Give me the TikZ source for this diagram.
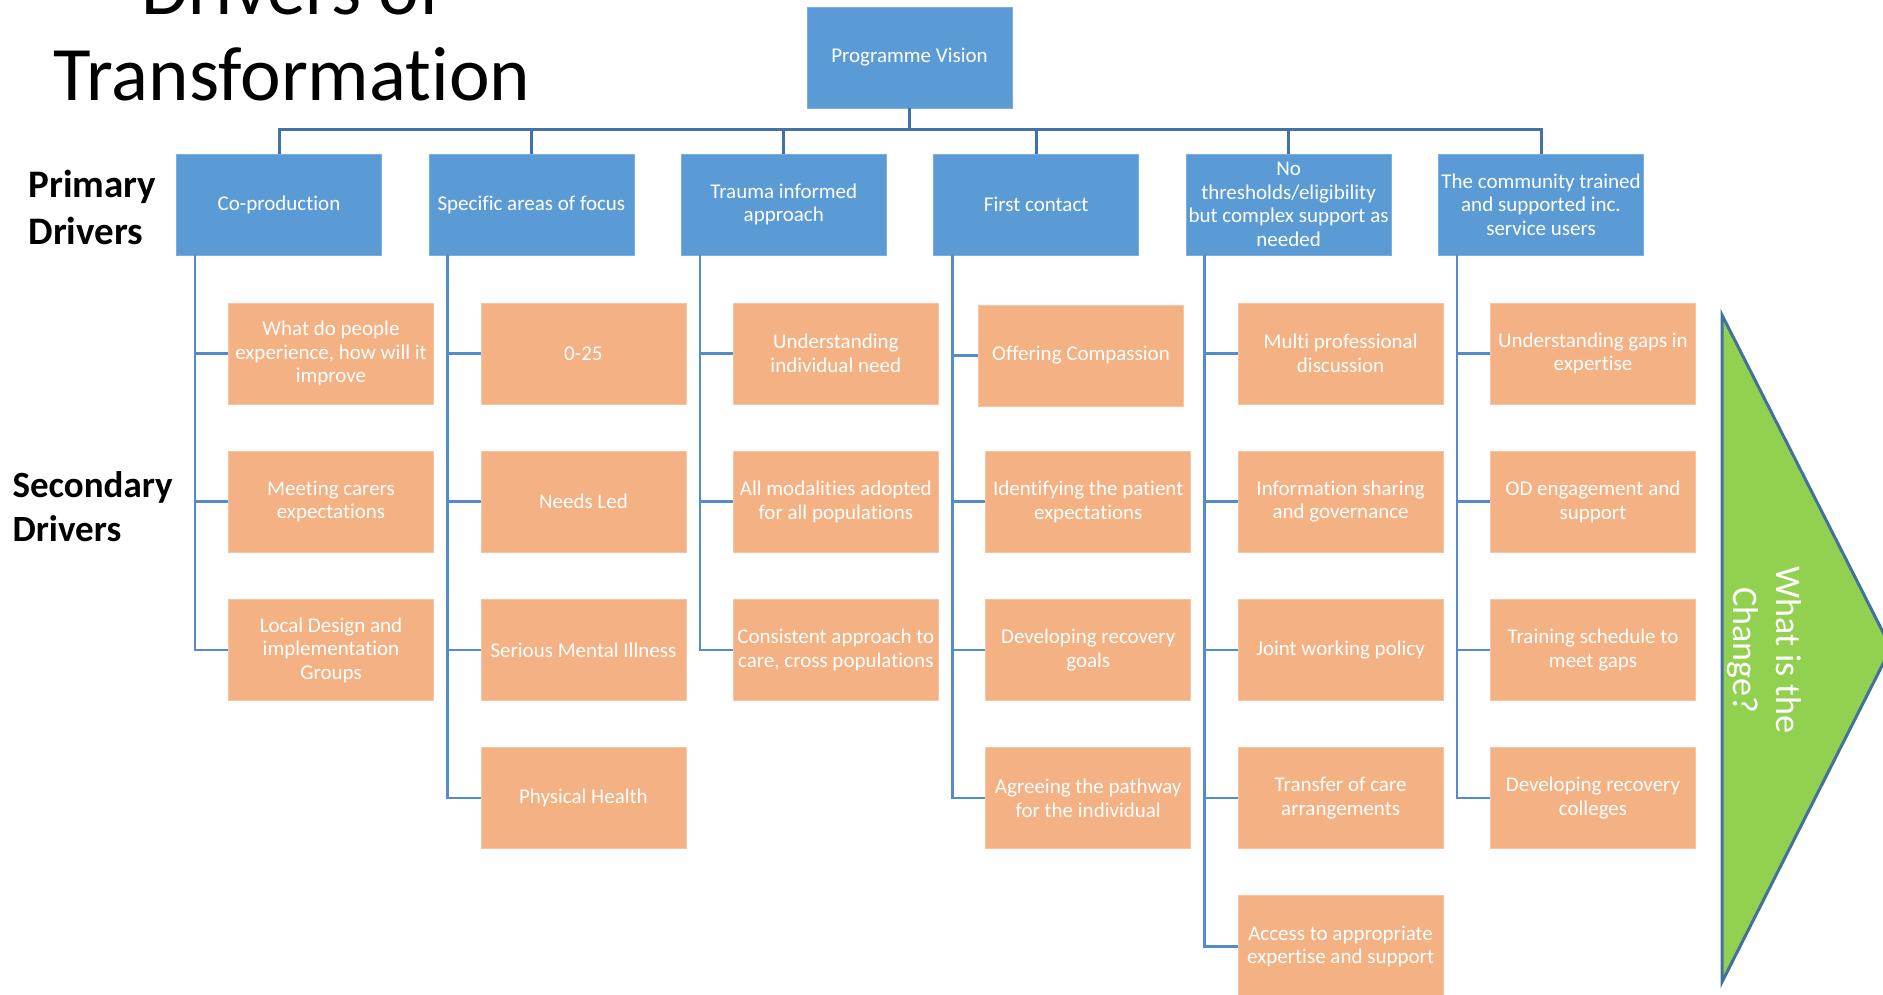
\documentclass[tikz,border=0pt]{standalone}
\usepackage{fontspec}
\setmainfont{Carlito}[Ligatures=NoCommon]
\usepackage{tikz}
\usetikzlibrary{positioning}
\definecolor{visionblue}{RGB}{91,155,213}
\definecolor{driverorange}{RGB}{244,177,131}
\definecolor{busblue}{RGB}{68,114,168}
\definecolor{linkblue}{RGB}{84,139,204}
\definecolor{changegreen}{RGB}{146,208,80}
\definecolor{edgeblue}{RGB}{65,113,156}

\begin{document}
\begin{tikzpicture}[x=1pt, y=-1pt,
    vision block/.style={draw=visionblue!80!white, line width=0.8pt, fill=visionblue, rectangle, minimum width=205pt, minimum height=101pt, inner sep=0pt, align=center, text=white, font=\fontsize{21}{23.5}\selectfont},
    primary block/.style={vision block},
    secondary block/.style={vision block, draw=driverorange!75!white, fill=driverorange},
    side label/.style={anchor=base west, font=\fontsize{39}{46}\selectfont\bfseries},
    bus/.style={draw=busblue, line width=3pt},
    link/.style={draw=linkblue, line width=2.5pt},
    node distance=252.4pt]
    \useasboundingbox (0,0) rectangle (1883,995);

    % title and row labels
    \node[anchor=base, font=\fontsize{77}{85}\selectfont] (title1) at (292,15) {Drivers of};
    \node[anchor=base, font=\fontsize{77}{85}\selectfont] (title2) at (292,101) {Transformation};
    \node[side label] (prim1) at (25,198) {Primary};
    \node[side label] (prim2) at (25,245) {Drivers};
    \node[side label, font=\fontsize{37}{44}\selectfont\bfseries] (sec1) at (9,497) {Secondary};
    \node[side label, font=\fontsize{37}{44}\selectfont\bfseries] (sec2) at (9,541) {Drivers};

    % vision and primary drivers
    \node[vision block] (PV) at (909.5,57.5) {Programme Vision};
    \node[primary block] (P1) at (279,204.5) {Co-production};
    \node[primary block, right of=P1] (P2) {Specific areas of focus};
    \node[primary block, right of=P2] (P3) {Trauma informed\\approach};
    \node[primary block, right of=P3] (P4) {First contact};
    \node[primary block, right of=P4] (P5) {No\\thresholds/eligibility\\but complex support as\\needed};
    \node[primary block, right of=P5] (P6) {The community trained\\and supported inc.\\service users};

    \coordinate (bus) at (909.5,130);
    \draw[bus] (PV.south) -- (bus);
    \draw[bus] (P1.north) |- (bus);
    \draw[bus] (P2.north) |- (bus);
    \draw[bus] (P3.north) |- (bus);
    \draw[bus] (P4.north) |- (bus);
    \draw[bus] (P5.north) |- (bus);
    \draw[bus] (P6.north) |- (bus);

    % secondary drivers
    \begin{scope}[node distance=148.2pt]
    \node[secondary block] (S11) at (331,353.5) {What do people\\experience, how will it\\improve};
    \node[secondary block, below of=S11] (S12) {Meeting carers\\expectations};
    \node[secondary block, below of=S12] (S13) {Local Design and\\implementation\\Groups};

    \node[secondary block] (S21) at (583.4,353.5) {0-25};
    \node[secondary block, below of=S21] (S22) {Needs Led};
    \node[secondary block, below of=S22] (S23) {Serious Mental Illness};
    \node[secondary block, below of=S23] (S24) {Physical Health};

    \node[secondary block] (S31) at (835.8,353.5) {Understanding\\individual need};
    \node[secondary block, below of=S31] (S32) {All modalities adopted\\for all populations};
    \node[secondary block, below of=S32] (S33) {Consistent approach to\\care, cross populations};

    \node[secondary block] (S41) at (1081,355.5) {Offering Compassion};
    \node[secondary block] (S42) at (1088.2,501.7) {Identifying the patient\\expectations};
    \node[secondary block, below of=S42] (S43) {Developing recovery\\goals};
    \node[secondary block, below of=S43] (S44) {Agreeing the pathway\\for the individual};

    \node[secondary block] (S51) at (1340.6,353.5) {Multi professional\\discussion};
    \node[secondary block, below of=S51] (S52) {Information sharing\\and governance};
    \node[secondary block, below of=S52] (S53) {Joint working policy};
    \node[secondary block, below of=S53] (S54) {Transfer of care\\arrangements};
    \node[secondary block, below of=S54] (S55) {Access to appropriate\\expertise and support};

    \node[secondary block] (S61) at (1593,353.5) {Understanding gaps in\\expertise};
    \node[secondary block, below of=S61] (S62) {OD engagement and\\support};
    \node[secondary block, below of=S62] (S63) {Training schedule to\\meet gaps};
    \node[secondary block, below of=S63] (S64) {Developing recovery\\colleges};
    \end{scope}

    \draw[link] ([xshift=19pt]P1.south west) |- (S11.west);
    \draw[link] ([xshift=19pt]P1.south west) |- (S12.west);
    \draw[link] ([xshift=19pt]P1.south west) |- (S13.west);
    \draw[link] ([xshift=19pt]P2.south west) |- (S21.west);
    \draw[link] ([xshift=19pt]P2.south west) |- (S22.west);
    \draw[link] ([xshift=19pt]P2.south west) |- (S23.west);
    \draw[link] ([xshift=19pt]P2.south west) |- (S24.west);
    \draw[link] ([xshift=19pt]P3.south west) |- (S31.west);
    \draw[link] ([xshift=19pt]P3.south west) |- (S32.west);
    \draw[link] ([xshift=19pt]P3.south west) |- (S33.west);
    \draw[link] ([xshift=19pt]P4.south west) |- (S41.west);
    \draw[link] ([xshift=19pt]P4.south west) |- (S42.west);
    \draw[link] ([xshift=19pt]P4.south west) |- (S43.west);
    \draw[link] ([xshift=19pt]P4.south west) |- (S44.west);
    \draw[link] ([xshift=19pt]P5.south west) |- (S51.west);
    \draw[link] ([xshift=19pt]P5.south west) |- (S52.west);
    \draw[link] ([xshift=19pt]P5.south west) |- (S53.west);
    \draw[link] ([xshift=19pt]P5.south west) |- (S54.west);
    \draw[link] ([xshift=19pt]P5.south west) |- (S55.west);
    \draw[link] ([xshift=19pt]P6.south west) |- (S61.west);
    \draw[link] ([xshift=19pt]P6.south west) |- (S62.west);
    \draw[link] ([xshift=19pt]P6.south west) |- (S63.west);
    \draw[link] ([xshift=19pt]P6.south west) |- (S64.west);

    % what is the change
    \draw[draw=edgeblue, fill=changegreen, line width=3pt] (1722,315) -- (1722,982) -- (1891,648) -- cycle;
    \node[rotate=-90, text=white, align=center, font=\fontsize{36}{43}\selectfont] (change) at (1764,650) {What is the\\Change?};
\end{tikzpicture}
\end{document}
